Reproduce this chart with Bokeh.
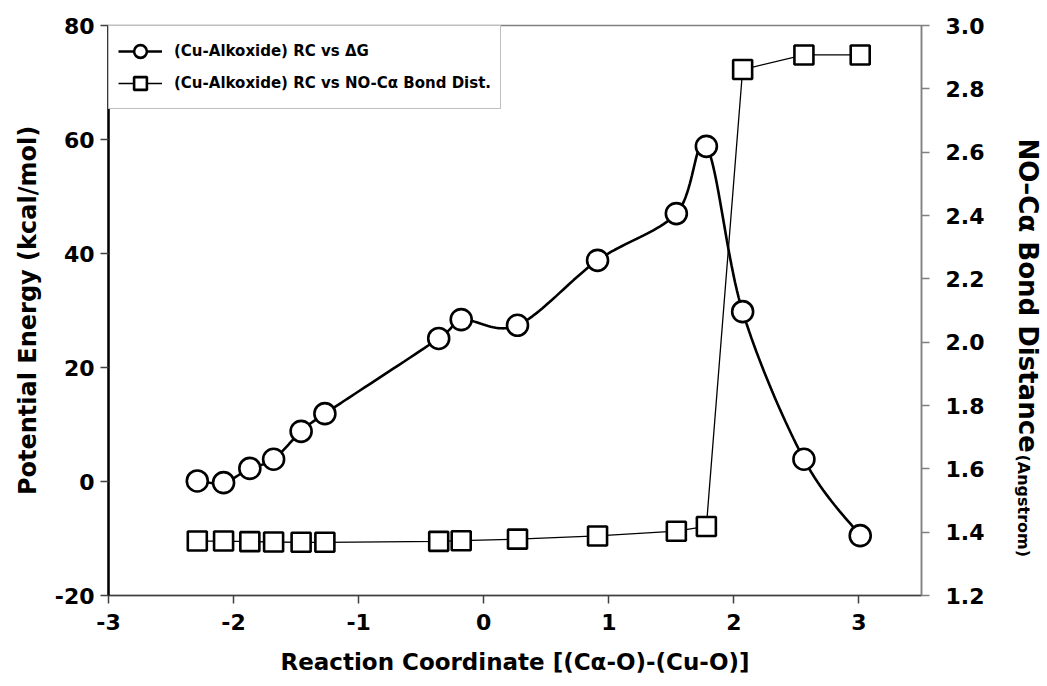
import numpy as np
from bokeh.plotting import figure
from bokeh.models import (Range1d, LinearAxis, Label, Legend, LegendItem,
                          FixedTicker, PrintfTickFormatter)
from bokeh.embed import file_html
from bokeh.resources import INLINE

# ---- data ----
rc_x = [-2.29, -2.08, -1.87, -1.68, -1.46, -1.27, -0.36, -0.18, 0.27, 0.91, 1.54, 1.78, 2.07, 2.56, 3.01]
delta_g = [0.1, -0.2, 2.3, 3.9, 8.8, 11.9, 25.1, 28.4, 27.4, 38.8, 47.0, 58.8, 29.8, 3.9, -9.5]
bond_dist = [1.372, 1.372, 1.370, 1.369, 1.368, 1.368, 1.371, 1.373, 1.378, 1.388, 1.403, 1.418, 2.861, 2.907, 2.907]

x_ticks = [-3, -2, -1, 0, 1, 2, 3]
y_ticks = [-20, 0, 20, 40, 60, 80]
y2_ticks = [1.2, 1.4, 1.6, 1.8, 2.0, 2.2, 2.4, 2.6, 2.8, 3.0]

legend_labels = ["(Cu-Alkoxide) RC vs \u0394G",
                 "(Cu-Alkoxide) RC vs NO-C\u03b1 Bond Dist."]
x_label = "Reaction Coordinate [(C\u03b1-O)-(Cu-O)]"
y_label = "Potential Energy (kcal/mol)"
y2_label_main = "NO\u2013C\u03b1  Bond Distance"
y2_label_small = "(Angstrom)"

FONT = "DejaVu Sans"


def smooth_path(xs, ys, n=24):
    """Cardinal Bezier path through the data points, used only for the drawn line."""
    P = np.column_stack([xs, ys]).astype(float)
    ext = np.vstack([P[0], P, P[-1]])
    out = []
    for i in range(len(P) - 1):
        p0, p1, p2, p3 = ext[i], ext[i + 1], ext[i + 2], ext[i + 3]
        c1 = p1 + (p2 - p0) / 6.0
        c2 = p2 - (p3 - p1) / 6.0
        t = np.linspace(0, 1, n, endpoint=(i == len(P) - 2))[:, None]
        seg = ((1 - t) ** 3) * p1 + 3 * ((1 - t) ** 2) * t * c1 + 3 * (1 - t) * t ** 2 * c2 + t ** 3 * p2
        out.append(seg)
    S = np.vstack(out)
    return S[:, 0], S[:, 1]


p = figure(width=1044, height=684, output_backend="svg", toolbar_location=None,
           x_range=Range1d(-3, 3.5), y_range=Range1d(-20, 80),
           min_border_left=108, min_border_right=123, min_border_top=25, min_border_bottom=89)
p.extra_y_ranges = {"bond": Range1d(1.2, 3.0)}

p.xgrid.visible = False
p.ygrid.visible = False
p.outline_line_color = "#808080"
p.outline_line_width = 1.5
p.background_fill_color = "white"
p.border_fill_color = "white"

# ---- series ----
sx, sy = smooth_path(rc_x, delta_g)
l1 = p.line(sx, sy, line_color="black", line_width=2.6)
m1 = p.scatter(rc_x, delta_g, marker="circle", size=21, fill_color="white",
               line_color="black", line_width=2.6)

l2 = p.line(rc_x, bond_dist, y_range_name="bond", line_color="black", line_width=1.3)
m2 = p.scatter(rc_x, bond_dist, y_range_name="bond", marker="square", size=19,
               fill_color="white", line_color="black", line_width=2.6)

# ---- axes ----
def style_axis(ax):
    ax.major_label_text_font = FONT
    ax.major_label_text_font_style = "bold"
    ax.major_label_text_font_size = "22px"
    ax.major_label_text_color = "black"
    ax.axis_label_text_font = FONT
    ax.axis_label_text_font_style = "bold"
    ax.axis_label_text_font_size = "23px"
    ax.axis_label_text_color = "black"
    ax.minor_tick_line_color = None
    ax.major_tick_in = 0
    ax.major_tick_out = 8
    ax.major_tick_line_width = 1.5


xa = p.xaxis[0]
style_axis(xa)
xa.ticker = FixedTicker(ticks=x_ticks)
xa.formatter = PrintfTickFormatter(format="%d")
xa.axis_label = x_label
xa.axis_line_color = "#404040"
xa.axis_line_width = 1.5
xa.major_tick_line_color = "#404040"
xa.major_label_standoff = 10
xa.axis_label_standoff = 16

ya = p.yaxis[0]
style_axis(ya)
ya.axis_label_text_font_size = "24px"
ya.ticker = FixedTicker(ticks=y_ticks)
ya.formatter = PrintfTickFormatter(format="%d")
ya.axis_label = y_label
ya.axis_line_color = "black"
ya.axis_line_width = 2.5
ya.major_tick_line_color = "#404040"
ya.major_label_standoff = 6
ya.axis_label_standoff = 10

y2 = LinearAxis(y_range_name="bond", ticker=FixedTicker(ticks=y2_ticks),
                formatter=PrintfTickFormatter(format="%.1f"))
style_axis(y2)
y2.axis_line_color = "#808080"
y2.axis_line_width = 1.5
y2.major_tick_line_color = "#808080"
y2.major_label_standoff = 16
p.add_layout(y2, "right")

# right axis title, mixed sizes, placed in the right side panel
p.add_layout(Label(x=40, y=457, x_units="screen", y_units="screen",
                   text=y2_label_main, angle=-np.pi / 2,
                   text_font=FONT, text_font_style="bold", text_font_size="26px",
                   text_color="black", text_align="left", text_baseline="alphabetic"), "right")
p.add_layout(Label(x=6, y=141, x_units="screen", y_units="screen",
                   text=y2_label_small, angle=-np.pi / 2,
                   text_font=FONT, text_font_style="bold", text_font_size="16px",
                   text_color="black", text_align="left", text_baseline="alphabetic"), "right")

# ---- legend ----
legend = Legend(items=[LegendItem(label=legend_labels[0], renderers=[l1, m1]),
                       LegendItem(label=legend_labels[1], renderers=[l2, m2])],
                location="top_left")
legend.margin = 0
legend.padding = 9
legend.spacing = 0
legend.glyph_width = 44
legend.glyph_height = 32
legend.label_height = 26
legend.label_standoff = 12
legend.label_text_font = FONT
legend.label_text_font_style = "bold"
legend.label_text_font_size = "15px"
legend.label_text_color = "black"
legend.border_line_color = "#808080"
legend.border_line_width = 1.5
legend.background_fill_color = "white"
legend.background_fill_alpha = 1.0
p.add_layout(legend)

open("out.html", "w").write(file_html(p, INLINE))
